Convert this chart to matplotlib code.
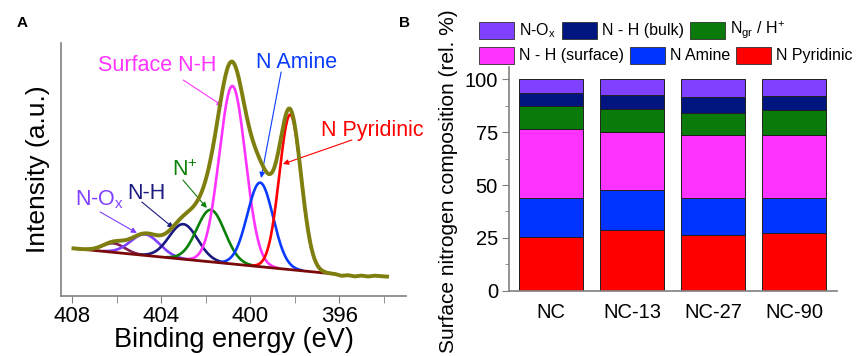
import numpy as np
import matplotlib
matplotlib.use('Agg')
import matplotlib.pyplot as plt
from matplotlib.patches import Rectangle
from matplotlib.ticker import MultipleLocator

plt.rcParams['font.family'] = ['Liberation Sans', 'DejaVu Sans']
plt.rcParams['mathtext.fontset'] = 'custom'
plt.rcParams['mathtext.rm'] = 'Liberation Sans'
plt.rcParams['mathtext.it'] = 'Liberation Sans:italic'

# ---- panel A: N 1s fit components (centre eV, height, sigma)
peak_names = ['small', 'N-Ox', 'N-H', 'N+', 'Surface N-H', 'N Amine', 'N Pyridinic']
peak_centers = [406.14, 404.72, 403.0, 401.77, 400.80, 399.55, 398.20]
peak_heights = [9, 21, 35, 52, 178, 84, 155]
peak_sigmas = [0.50, 0.65, 0.64, 0.63, 0.59, 0.58, 0.49]
peak_colors = ['#802050', '#8040ff', '#1a1a80', '#0a800a', '#ff33ff', '#0a3cff', '#ff0000']

# linear (Shirley-ish) background end points
bg_energy = [407.94, 396.2]
bg_level = [47.6, 22.0]

# flat noisy tail of measured data beyond the fit window
tail_energy = [396.2, 395.9, 395.6, 395.3, 395.0, 394.7, 394.4, 394.1, 393.85]
tail_level = [22.0, 20.2, 20.8, 19.6, 20.4, 19.5, 20.3, 19.8, 19.4]

# ---- panel B: surface nitrogen composition (rel. %)
samples = ['NC', 'NC-13', 'NC-27', 'NC-90']
n_pyridinic = [25.3, 28.5, 26.4, 27.4]
n_amine = [18.8, 19.3, 17.6, 16.6]
nh_surface = [32.5, 27.4, 29.6, 29.6]
n_gr = [10.9, 10.9, 10.6, 11.8]
nh_bulk = [5.9, 6.5, 7.3, 6.7]
n_ox = [6.6, 7.4, 8.5, 7.9]

W, H = 861, 356
fig = plt.figure(figsize=(W / 100, H / 100), dpi=100)

def fx(px):
    return px / W

def fy(py):
    return 1 - py / H

# ---------------- panel A ----------------
ax = fig.add_axes([fx(61), fy(296), fx(406) - fx(61), fy(43) - fy(296)])
E = np.linspace(bg_energy[0], bg_energy[1], 600)
bg = np.interp(E, bg_energy[::-1], bg_level[::-1])
total = bg.copy()
for c, h, s, col in zip(peak_centers, peak_heights, peak_sigmas, peak_colors):
    g = h * np.exp(-(E - c) ** 2 / (2 * s ** 2))
    total += g
    comp = np.where(g > 0.4, bg + g, np.nan)
    ax.plot(E, comp, color=col, lw=1.9, zorder=2)
ax.plot(bg_energy, bg_level, color='#7a0a0a', lw=2.0, zorder=3)
ax.plot(E, total, color='black', lw=1.0, zorder=4)
E_meas = np.concatenate([E, tail_energy[1:]])
I_meas = np.concatenate([total, tail_level[1:]])
ax.plot(E_meas, I_meas, color='#7f7f10', lw=2.8, zorder=5)

ax.set_xlim(408.5, 393.0)
ax.set_ylim(0, 253)
ax.xaxis.set_major_locator(MultipleLocator(4))
ax.xaxis.set_minor_locator(MultipleLocator(2))
ax.set_yticks([])
for sp in ['top', 'right']:
    ax.spines[sp].set_visible(False)
for sp in ['left', 'bottom']:
    ax.spines[sp].set_color('#808080')
    ax.spines[sp].set_linewidth(1.2)
ax.tick_params(axis='x', which='both', direction='out', colors='#808080',
               labelcolor='black', labelsize=16, pad=2)
ax.tick_params(axis='x', which='major', length=5)
ax.tick_params(axis='x', which='minor', length=5)
ax.set_xlabel('Binding energy (eV)', fontsize=19.5, labelpad=0)
ax.set_ylabel('Intensity (a.u.)', fontsize=19, labelpad=8)

# annotations: (label, colour, text pos, arrow start, arrow tip)
notes = [
    ('Surface N-H', '#ff33ff', (404.18, 231), (403.01, 216), (401.23, 190)),
    ('N Amine', '#0a3cff', (397.90, 234), (398.61, 224), (399.51, 118)),
    ('N Pyridinic', '#ff0000', (394.53, 166), (395.43, 156), (398.53, 132)),
    ('N$^{+}$', '#0a800a', (402.95, 126), (403.02, 116), (401.95, 88)),
    ('N-H', '#1a1a80', (404.67, 103), (404.87, 94), (403.45, 68)),
    ('N-O$_{\\rm x}$', '#8040ff', (406.75, 96), (406.74, 84), (405.09, 63)),
]
for label, col, tpos, start, tip in notes:
    ax.text(tpos[0], tpos[1], label, color=col, fontsize=15.5,
            ha='center', va='center', clip_on=False)
    ax.annotate('', xy=tip, xytext=start,
                arrowprops=dict(arrowstyle='-|>', color=col, lw=0.8,
                                mutation_scale=8, shrinkA=0, shrinkB=0))

# ---------------- panel B ----------------
bx = fig.add_axes([fx(509), fy(290.7), fx(837) - fx(509), fy(66.7) - fy(290.7)])
x = np.arange(len(samples))
stack = [
    (n_pyridinic, '#ff0000'),
    (n_amine, '#0033ff'),
    (nh_surface, '#ff33ff'),
    (n_gr, '#0a7a0a'),
    (nh_bulk, '#00157f'),
    (n_ox, '#8040ff'),
]
bottom = np.zeros(len(samples))
for vals, col in stack:
    bx.bar(x, vals, bottom=bottom, width=0.79, color=col, edgecolor='#202020', lw=0.7)
    bottom += np.array(vals)

bx.set_xlim(-0.52, 3.53)
bx.set_ylim(0, 106)
bx.set_xticks(x)
bx.set_xticklabels(samples)
bx.yaxis.set_major_locator(MultipleLocator(25))
bx.yaxis.set_minor_locator(MultipleLocator(12.5))
for sp in ['top', 'right']:
    bx.spines[sp].set_visible(False)
for sp in ['left', 'bottom']:
    bx.spines[sp].set_color('#808080')
    bx.spines[sp].set_linewidth(1.2)
bx.tick_params(axis='y', which='both', direction='out', colors='#808080',
               labelcolor='black', labelsize=14.5, pad=3)
bx.tick_params(axis='y', which='major', length=5)
bx.tick_params(axis='y', which='minor', length=3)
bx.tick_params(axis='x', length=0, labelsize=14.5, pad=9)
fig.text(fx(448), fy(181), 'Surface nitrogen composition (rel. %)', rotation=90,
         fontsize=15, ha='center', va='center')

# legend drawn by hand, two flowing rows
renderer = fig.canvas.get_renderer()
rows = [
    (21.7, [('N-O$_{\\rm x}$', '#8040ff'), ('N - H (bulk)', '#00157f'),
            ('N$_{\\rm gr}$ / H$^{+}$', '#0a7a0a')]),
    (46.7, [('N - H (surface)', '#ff33ff'), ('N Amine', '#0033ff'),
            ('N Pyridinic', '#ff0000')]),
]
for top, items in rows:
    px = 479
    for label, col in items:
        fig.add_artist(Rectangle((fx(px), fy(top + 17)), 35 / W, 17 / H,
                                 transform=fig.transFigure, fc=col,
                                 ec='#303030', lw=0.6))
        t = fig.text(fx(px + 40), fy(top + 8.5), label, fontsize=11.5,
                     ha='left', va='center')
        w = t.get_window_extent(renderer).width
        px = px + 40 + w + 6

fig.text(fx(22), fy(23), 'A', fontsize=11, fontweight='bold', ha='center', va='center')
fig.text(fx(404), fy(23), 'B', fontsize=11, fontweight='bold', ha='center', va='center')

fig.savefig('out.png', dpi=100)
